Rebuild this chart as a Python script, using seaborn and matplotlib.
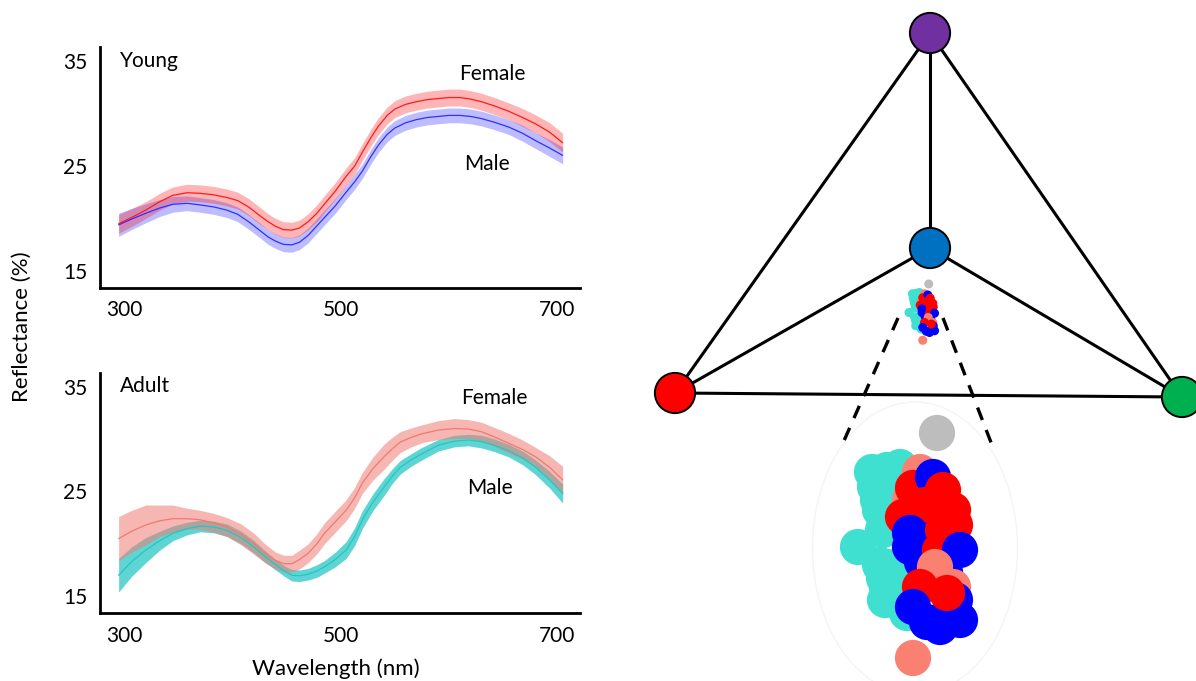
import numpy as np
import pandas as pd
import matplotlib
matplotlib.use("Agg")
import matplotlib.pyplot as plt
from matplotlib.patches import Ellipse
import seaborn as sns

# ---------------- data: reflectance spectra (mean and half-width of band) ----------------
WL_YOUNG = [295, 307, 320, 333, 345, 358, 370, 383, 395, 405, 415, 425, 433, 440, 447, 455, 462, 470,
            478, 486, 495, 505, 513, 520, 528, 535, 543, 550, 560, 570, 580, 590, 600, 610, 620, 630,
            642, 655, 668, 680, 693, 705]
YF_MEAN = [19.5, 20.1, 20.8, 21.6, 22.2, 22.45, 22.4, 22.25, 22.0, 21.7, 21.1, 20.3, 19.7, 19.25, 18.95,
           18.9, 19.1, 19.7, 20.5, 21.5, 22.6, 24.0, 25.0, 26.3, 27.7, 28.8, 29.8, 30.4, 30.85, 31.1,
           31.3, 31.4, 31.5, 31.5, 31.35, 31.1, 30.7, 30.2, 29.6, 29.0, 28.2, 27.2]
YF_SPREAD = [0.9, 0.85, 0.8, 0.8, 0.8, 0.8, 0.8, 0.8, 0.8, 0.8, 0.8, 0.8, 0.75, 0.75, 0.75, 0.75, 0.75,
             0.75, 0.8, 0.8, 0.8, 0.8, 0.8, 0.8, 0.8, 0.8, 0.8, 0.8, 0.8, 0.8, 0.8, 0.8, 0.8, 0.8, 0.8,
             0.8, 0.8, 0.8, 0.85, 0.85, 0.9, 0.9]
YM_MEAN = [19.4, 19.95, 20.5, 21.0, 21.35, 21.45, 21.3, 21.1, 20.8, 20.4, 19.7, 18.9, 18.25, 17.85, 17.55,
           17.5, 17.75, 18.4, 19.3, 20.2, 21.2, 22.5, 23.5, 24.5, 25.9, 27.0, 28.0, 28.6, 29.1, 29.4,
           29.6, 29.7, 29.8, 29.8, 29.7, 29.5, 29.15, 28.7, 28.1, 27.4, 26.7, 26.0]
YM_SPREAD = [1.1, 1.0, 0.9, 0.8, 0.75, 0.7, 0.7, 0.7, 0.7, 0.7, 0.7, 0.7, 0.7, 0.7, 0.7, 0.7, 0.7, 0.7,
             0.7, 0.7, 0.7, 0.7, 0.7, 0.7, 0.7, 0.7, 0.7, 0.7, 0.7, 0.7, 0.7, 0.7, 0.7, 0.7, 0.7, 0.7,
             0.7, 0.7, 0.75, 0.75, 0.8, 0.8]

WL_ADULT = [295, 307, 320, 333, 345, 358, 370, 383, 395, 408, 420, 430, 440, 448, 455, 462, 470, 478,
            485, 495, 505, 513, 520, 530, 540, 548, 555, 565, 575, 590, 605, 618, 630, 642, 655, 668,
            680, 693, 705]
AF_MEAN = [20.5, 21.2, 21.8, 22.2, 22.4, 22.4, 22.3, 22.0, 21.6, 20.9, 20.0, 19.1, 18.4, 18.1, 18.1,
           18.5, 19.1, 20.0, 21.0, 22.1, 23.2, 24.4, 25.8, 27.2, 28.3, 29.1, 29.7, 30.15, 30.5, 30.85,
           31.0, 30.95, 30.7, 30.2, 29.6, 29.0, 28.3, 27.3, 26.1]
AF_SPREAD = [2.1, 2.0, 1.9, 1.5, 1.3, 1.0, 0.9, 0.9, 0.9, 1.0, 1.0, 0.9, 0.8, 0.8, 0.8, 0.9, 0.9, 0.95,
             1.0, 1.0, 1.0, 1.0, 1.0, 1.1, 1.2, 1.1, 1.0, 0.9, 0.85, 0.9, 0.95, 0.9, 0.9, 0.9, 0.95,
             0.9, 0.9, 1.1, 1.3]
AM_MEAN = [17.0, 18.3, 19.4, 20.3, 21.0, 21.45, 21.7, 21.6, 21.3, 20.6, 19.7, 18.8, 18.0, 17.4, 17.0,
           16.95, 17.1, 17.4, 17.8, 18.5, 19.4, 20.7, 22.3, 24.0, 25.4, 26.5, 27.3, 28.0, 28.6, 29.4,
           29.8, 29.9, 29.75, 29.4, 28.9, 28.2, 27.3, 26.1, 24.8]
AM_SPREAD = [1.6, 1.4, 1.2, 0.9, 0.7, 0.6, 0.55, 0.55, 0.6, 0.6, 0.6, 0.55, 0.5, 0.5, 0.55, 0.55, 0.55,
             0.6, 0.6, 0.7, 0.8, 0.85, 0.85, 0.8, 0.8, 0.7, 0.65, 0.6, 0.6, 0.55, 0.55, 0.55, 0.6, 0.6,
             0.6, 0.65, 0.7, 0.8, 0.9]

X_TICKS = [300, 500, 700]
Y_TICKS = [15, 25, 35]

# ---------------- data: colour space tetrahedron ----------------
VERT_NAME = ["UV", "Blue", "Red", "Green"]
VERT_X = [930, 930, 675, 1182]
VERT_Y = [33, 248, 393, 397]
VERT_COLOR = ["#7030a0", "#0070c0", "#ff0000", "#00b050"]
EDGES = [(0, 1), (0, 2), (0, 3), (1, 2), (1, 3), (2, 3)]

DASH_X = [[898, 843], [943, 992]]
DASH_Y = [[318, 443], [318, 445]]

CL_GROUP = (["ref", "adult_f"] + ["adult_m"] * 16 + ["adult_f"] * 2 + ["young_f", "young_m"]
            + ["young_f"] * 4 + ["young_m"] * 4 + ["young_f"] * 3 + ["young_m"] * 2
            + ["adult_f", "young_f", "adult_f"] + ["young_m"] * 6 + ["young_f"])
CL_X = [937, 913,
        887, 900, 872, 875, 878, 880, 883, 858, 880, 893, 884, 887, 885, 900, 907, 893,
        920, 910,
        913, 933,
        943, 953, 903, 925,
        910, 910, 930, 922,
        943, 940, 955,
        960, 945,
        935, 920, 953,
        913, 927, 950, 955, 940, 960,
        947]
CL_Y = [433, 658,
        470, 467, 472, 487, 500, 510, 530, 547, 565, 567, 578, 587, 600, 603, 613, 490,
        472, 500,
        488, 477,
        490, 510, 517, 505,
        533, 547, 540, 562,
        530, 550, 525,
        550, 572,
        567, 587, 587,
        607, 622, 612, 600, 627, 620,
        593]
CL_PALETTE = {"ref": "#bdbdbd", "adult_f": "#fa8072", "adult_m": "#40e0d0",
              "young_f": "#ff0000", "young_m": "#0000ff"}

# ---------------- style ----------------
sns.set_theme(style="white")
plt.rcParams["font.family"] = ["Lato", "DejaVu Sans"]
plt.rcParams["text.color"] = "black"

W, H = 1196, 681
fig = plt.figure(figsize=(W / 100, H / 100), dpi=100)


def fx(px):
    return px / W


def fy(py):
    return 1 - py / H


ax1 = fig.add_axes([fx(100), fy(288), fx(480), 241 / H])
ax2 = fig.add_axes([fx(100), fy(613), fx(480), 240 / H])


def band(ax, wl, mid, spread, color, alpha):
    wl = np.asarray(wl, float)
    mid = np.asarray(mid, float)
    spread = np.asarray(spread, float)
    df = pd.DataFrame({"wl": np.concatenate([wl, wl, wl]),
                       "val": np.concatenate([mid - spread, mid, mid + spread])})
    sns.lineplot(data=df, x="wl", y="val", estimator="median",
                 errorbar=("pi", 100), color=color, lw=0.9,
                 err_kws={"alpha": alpha, "linewidth": 0}, ax=ax)


band(ax1, WL_YOUNG, YM_MEAN, YM_SPREAD, "#3030ff", 0.32)
band(ax1, WL_YOUNG, YF_MEAN, YF_SPREAD, "#ff1a1a", 0.32)
band(ax2, WL_ADULT, AM_MEAN, AM_SPREAD, "#22c6c2", 0.72)
band(ax2, WL_ADULT, AF_MEAN, AF_SPREAD, "#f07a72", 0.55)

for ax in (ax1, ax2):
    ax.set_xlim(277.8, 721)
    ax.set_ylim(13.4, 36.3)
    ax.set_xticks(X_TICKS)
    ax.set_yticks(Y_TICKS)
    ax.set_xlabel("")
    ax.set_ylabel("")
    ax.grid(False)
    ax.set_facecolor("none")
    sns.despine(ax=ax)
    for s in ("left", "bottom"):
        ax.spines[s].set_color("black")
        ax.spines[s].set_linewidth(2.0)
    ax.tick_params(axis="both", length=0, labelsize=15, colors="black")
    ax.tick_params(axis="y", pad=9)
    ax.tick_params(axis="x", pad=9)

ax1.text(296, 35, "Young", fontsize=15, va="center", ha="left")
ax1.text(640, 33.7, "Female", fontsize=15, va="center", ha="center")
ax1.text(635, 25.2, "Male", fontsize=15, va="center", ha="center")
ax2.text(296, 35.1, "Adult", fontsize=15, va="center", ha="left")
ax2.text(642, 33.9, "Female", fontsize=15, va="center", ha="center")
ax2.text(638, 25.35, "Male", fontsize=15, va="center", ha="center")

fig.text(fx(22), fy(327), "Reflectance (%)", rotation=90, fontsize=16,
         ha="center", va="center")
fig.text(fx(336), fy(669), "Wavelength (nm)", fontsize=16,
         ha="center", va="center")

# ---------------- tetrahedron ----------------
ax3 = fig.add_axes([fx(600), 0, fx(596), 1])
ax3.set_xlim(600, 1196)
ax3.set_ylim(681, 0)
ax3.axis("off")
for i, j in EDGES:
    ax3.plot([VERT_X[i], VERT_X[j]], [VERT_Y[i], VERT_Y[j]], color="black",
             lw=2.2, zorder=1, solid_capstyle="round")
for xs, ys in zip(DASH_X, DASH_Y):
    ax3.plot(xs, ys, color="black", lw=2.4, ls=(0, (4, 3.2)), zorder=1)
ax3.add_patch(Ellipse((915, 548), 205, 292, facecolor="none",
                      edgecolor="#f4f4f4", lw=1.0, zorder=0))
vdf = pd.DataFrame({"x": VERT_X, "y": VERT_Y, "v": VERT_NAME})
sns.scatterplot(data=vdf, x="x", y="y", hue="v",
                palette=dict(zip(VERT_NAME, VERT_COLOR)), s=840,
                edgecolor="black", linewidth=1.4, legend=False, ax=ax3,
                zorder=3, clip_on=False)
ax3.set_xlabel("")
ax3.set_ylabel("")

# ---------------- cluster (small in tetrahedron, enlarged below) ----------------
cdf = pd.DataFrame({"x": CL_X, "y": CL_Y, "g": CL_GROUP})
CL_XLIM = (800, 1030)
CL_YLIM = (681, 400)
cw, ch = CL_XLIM[1] - CL_XLIM[0], CL_YLIM[0] - CL_YLIM[1]

ax4 = fig.add_axes([fx(800), fy(681), fx(cw), ch / H])
ax5 = fig.add_axes([fx(894.5), fy(275.75 + ch * 0.25), fx(cw * 0.25), ch * 0.25 / H])
for ax, s in ((ax4, 680), (ax5, 680 / 16)):
    sns.scatterplot(data=cdf, x="x", y="y", hue="g", palette=CL_PALETTE,
                    s=s, linewidth=0, alpha=1, legend=False, ax=ax)
    ax.set_xlim(*CL_XLIM)
    ax.set_ylim(*CL_YLIM)
    ax.axis("off")
    ax.patch.set_alpha(0)

fig.savefig("out.png", dpi=100)
